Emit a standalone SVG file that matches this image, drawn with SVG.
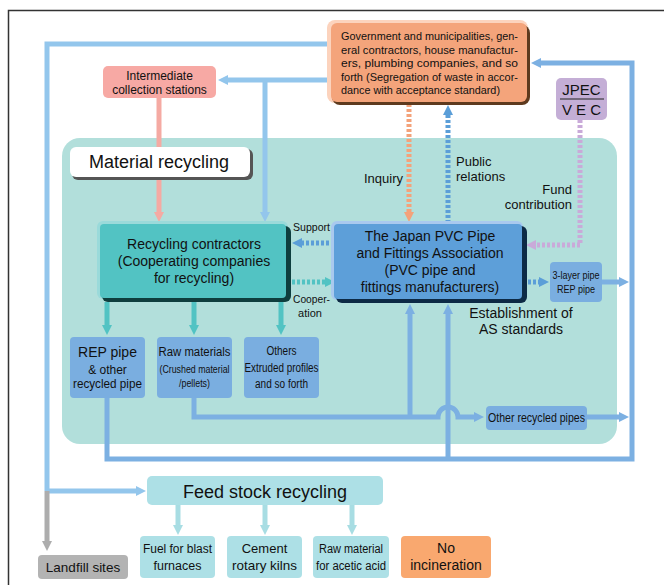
<svg xmlns="http://www.w3.org/2000/svg" width="664" height="585" viewBox="0 0 664 585">
<defs>
<style>
text{font-family:"Liberation Sans",Arial,sans-serif;fill:#111;}
.c{text-anchor:middle;}
.r{text-anchor:end;}
.ln{fill:none;stroke-width:5;}
.lb{stroke:#93c6ec;}
.mb{stroke:#7cb0e2;}
.tl{stroke:#52c3c3;}
.ft{stroke:#a8dde3;}
.dot{stroke-dasharray:3 2;}
.blue{fill:#7aaee0;}
.ftb{fill:#ade0e6;}
</style>
<marker id="aLB" viewBox="0 0 10 10" refX="1" refY="5" markerWidth="10" markerHeight="12" markerUnits="userSpaceOnUse" orient="auto"><path d="M0,0L10,5L0,10z" fill="#93c6ec"/></marker>
<marker id="aMB" viewBox="0 0 10 10" refX="1" refY="5" markerWidth="10" markerHeight="12" markerUnits="userSpaceOnUse" orient="auto"><path d="M0,0L10,5L0,10z" fill="#7cb0e2"/></marker>
<marker id="aDB" viewBox="0 0 10 10" refX="1" refY="5" markerWidth="10" markerHeight="12" markerUnits="userSpaceOnUse" orient="auto"><path d="M0,0L10,5L0,10z" fill="#5b9ed8"/></marker>
<marker id="aPK" viewBox="0 0 10 10" refX="1" refY="5" markerWidth="10" markerHeight="12" markerUnits="userSpaceOnUse" orient="auto"><path d="M0,0L10,5L0,10z" fill="#f5aaa3"/></marker>
<marker id="aTL" viewBox="0 0 10 10" refX="1" refY="5" markerWidth="10" markerHeight="12" markerUnits="userSpaceOnUse" orient="auto"><path d="M0,0L10,5L0,10z" fill="#52c3c3"/></marker>
<marker id="aOR" viewBox="0 0 10 10" refX="1" refY="5" markerWidth="10" markerHeight="12" markerUnits="userSpaceOnUse" orient="auto"><path d="M0,0L10,5L0,10z" fill="#f4a27a"/></marker>
<marker id="aPU" viewBox="0 0 10 10" refX="1" refY="5" markerWidth="10" markerHeight="12" markerUnits="userSpaceOnUse" orient="auto"><path d="M0,0L10,5L0,10z" fill="#c9aad9"/></marker>
<marker id="aFT" viewBox="0 0 10 10" refX="1" refY="5" markerWidth="10" markerHeight="12" markerUnits="userSpaceOnUse" orient="auto"><path d="M0,0L10,5L0,10z" fill="#a8dde3"/></marker>
<marker id="aGR" viewBox="0 0 10 10" refX="1" refY="5" markerWidth="10" markerHeight="12" markerUnits="userSpaceOnUse" orient="auto"><path d="M0,0L10,5L0,10z" fill="#adadad"/></marker>
</defs>
<rect width="664" height="585" fill="#fff"/>
<path d="M8.5,585V10.5H664" fill="none" stroke="#333" stroke-width="1.5"/>

<g id="material-recycling-area">
<rect x="62" y="138" width="555" height="306" rx="18" fill="#b2dfdb"/>
</g>

<g id="connectors">
<path class="ln lb" d="M332,44H47V491"/>
<path class="ln lb" d="M47,491H137" marker-end="url(#aLB)"/>
<path class="ln" stroke="#adadad" d="M47,491V542" marker-end="url(#aGR)"/>
<path class="ln lb" d="M332,80H227" marker-end="url(#aLB)"/>
<path class="ln lb" d="M265,80V213" marker-end="url(#aLB)"/>
<path class="ln" stroke="#f5aaa3" d="M159,98V213" marker-end="url(#aPK)"/>
<path class="ln tl" d="M107,302V326" marker-end="url(#aTL)"/>
<path class="ln tl" d="M194,302V326" marker-end="url(#aTL)"/>
<path class="ln tl" d="M281,302V326" marker-end="url(#aTL)"/>
<path class="ln dot" stroke="#5b9ed8" d="M334,243H301" marker-end="url(#aDB)"/>
<path class="ln dot tl" d="M292,282H326" marker-end="url(#aTL)"/>
<path class="ln dot" stroke="#f4a27a" d="M409,104V213" marker-end="url(#aOR)"/>
<path class="ln dot" stroke="#5b9ed8" d="M448,223V114" marker-end="url(#aDB)"/>
<path class="ln dot" stroke="#c9aad9" d="M580,120V245H535" marker-end="url(#aPU)"/>
<path class="ln dot" stroke="#5b9ed8" d="M528,282H540" marker-end="url(#aDB)"/>
<path class="ln mb" d="M602,282H620" marker-end="url(#aMB)"/>
<path class="ln mb" d="M194,398V417H438A10,10 0 0,1 458,417H475" marker-end="url(#aMB)"/>
<path class="ln mb" d="M410,417V313" marker-end="url(#aMB)"/>
<path class="ln mb" d="M107,398V459H632V63H540" marker-end="url(#aMB)"/>
<path class="ln mb" d="M448,459V313" marker-end="url(#aMB)"/>
<path class="ln mb" d="M587,417H620" marker-end="url(#aMB)"/>
<path class="ln ft" d="M178,505V526" marker-end="url(#aFT)"/>
<path class="ln ft" d="M265,505V526" marker-end="url(#aFT)"/>
<path class="ln ft" d="M352,505V526" marker-end="url(#aFT)"/>
</g>

<g id="material-recycling-label">
<rect x="72" y="149" width="181" height="31" rx="6" fill="#555"/>
<rect x="70" y="147" width="180" height="30" rx="6" fill="#fff"/>
<text x="159" y="168" class="c" font-size="18">Material recycling</text>
</g>

<g id="government">
<rect x="327" y="20" width="201" height="83" rx="8" fill="#fcd3bd"/>
<rect x="332" y="25" width="198" height="80" rx="8" fill="#5e3a1e"/>
<rect x="331" y="23" width="196" height="79" rx="6" fill="#f4a47b"/>
<g font-size="11">
<text x="341" y="40" textLength="177" lengthAdjust="spacingAndGlyphs">Government and municipalities, gen-</text>
<text x="341" y="53.5" textLength="177" lengthAdjust="spacingAndGlyphs">eral contractors, house manufactur-</text>
<text x="341" y="67" textLength="177" lengthAdjust="spacingAndGlyphs">ers, plumbing companies, and so</text>
<text x="341" y="80.5" textLength="177" lengthAdjust="spacingAndGlyphs">forth (Segregation of waste in accor-</text>
<text x="341" y="94" textLength="159" lengthAdjust="spacingAndGlyphs">dance with acceptance standard)</text>
</g>
</g>

<g id="intermediate">
<rect x="103" y="66" width="113" height="32" rx="5" fill="#f7a9a4"/>
<text x="159.5" y="80" class="c" font-size="12">Intermediate</text>
<text x="159.5" y="94" class="c" font-size="12">collection stations</text>
</g>

<g id="jpec">
<rect x="556" y="78" width="51" height="42" rx="5" fill="#c4aed6"/>
<text x="581.5" y="95" class="c" font-size="15">JPEC</text>
<line x1="560" y1="99" x2="604" y2="99" stroke="#222" stroke-width="1"/>
<text x="581.5" y="115" class="c" font-size="15">V E C</text>
</g>

<g id="recycling-contractors">
<rect x="97" y="221" width="191" height="78" rx="6" fill="#9adada"/>
<rect x="102" y="226" width="189" height="76" rx="6" fill="#0e3e3e"/>
<rect x="100" y="224" width="186" height="74" rx="4" fill="#52c3c3"/>
<text x="194" y="249" class="c" font-size="14">Recycling contractors</text>
<text x="194" y="266" class="c" font-size="14">(Cooperating companies</text>
<text x="194" y="283" class="c" font-size="14">for recycling)</text>
</g>

<g id="association">
<rect x="331" y="221" width="192" height="79" rx="6" fill="#a9c9ee"/>
<rect x="336" y="226" width="191" height="77" rx="6" fill="#0d2a45"/>
<rect x="334" y="224" width="188" height="75" rx="4" fill="#5d9fd9"/>
<text x="430" y="241" class="c" font-size="14">The Japan PVC Pipe</text>
<text x="430" y="258" class="c" font-size="14">and Fittings Association</text>
<text x="430" y="275" class="c" font-size="14">(PVC pipe and</text>
<text x="430" y="292" class="c" font-size="14">fittings manufacturers)</text>
</g>

<g id="labels" font-size="13">
<text x="293" y="231" font-size="11" textLength="37" lengthAdjust="spacingAndGlyphs">Support</text>
<text x="293" y="303" font-size="11" textLength="37" lengthAdjust="spacingAndGlyphs">Cooper-</text>
<text x="310" y="317" class="c" font-size="11">ation</text>
<text x="403" y="183" class="r">Inquiry</text>
<text x="456" y="166">Public</text>
<text x="456" y="181">relations</text>
<text x="572" y="194" class="r">Fund</text>
<text x="572" y="209" class="r">contribution</text>
<text x="521" y="318" class="c" font-size="14">Establishment of</text>
<text x="521" y="334" class="c" font-size="14">AS standards</text>
</g>

<g id="three-layer">
<rect x="550" y="262" width="52" height="40" rx="4" class="blue"/>
<text x="576" y="279" class="c" font-size="11" textLength="47" lengthAdjust="spacingAndGlyphs">3-layer pipe</text>
<text x="576" y="293" class="c" font-size="11" textLength="38" lengthAdjust="spacingAndGlyphs">REP pipe</text>
</g>

<g id="rep-pipe">
<rect x="70" y="337" width="75" height="61" rx="4" class="blue"/>
<text x="107.5" y="357" class="c" font-size="14">REP pipe</text>
<text x="107.5" y="374" class="c" font-size="12">&amp; other</text>
<text x="107.5" y="388" class="c" font-size="12" textLength="69" lengthAdjust="spacingAndGlyphs">recycled pipe</text>
</g>

<g id="raw-materials">
<rect x="157" y="337" width="75" height="61" rx="4" class="blue"/>
<text x="194.5" y="356" class="c" font-size="12" textLength="72" lengthAdjust="spacingAndGlyphs">Raw materials</text>
<text x="194.5" y="373" class="c" font-size="10.5" textLength="70" lengthAdjust="spacingAndGlyphs">(Crushed material</text>
<text x="194.5" y="387" class="c" font-size="10.5" textLength="31" lengthAdjust="spacingAndGlyphs">/pellets)</text>
</g>

<g id="others">
<rect x="244" y="337" width="75" height="61" rx="4" class="blue"/>
<text x="281.5" y="355" class="c" font-size="12" textLength="30" lengthAdjust="spacingAndGlyphs">Others</text>
<text x="281.5" y="372" class="c" font-size="12" textLength="74" lengthAdjust="spacingAndGlyphs">Extruded profiles</text>
<text x="281.5" y="388" class="c" font-size="12" textLength="53" lengthAdjust="spacingAndGlyphs">and so forth</text>
</g>

<g id="other-recycled-pipes">
<rect x="486" y="406" width="101" height="24" rx="4" class="blue"/>
<text x="536.5" y="422" class="c" font-size="12" textLength="97" lengthAdjust="spacingAndGlyphs">Other recycled pipes</text>
</g>

<g id="feed-stock">
<rect x="147" y="476" width="236" height="29" rx="5" class="ftb"/>
<text x="265" y="498" class="c" font-size="18">Feed stock recycling</text>
</g>

<g id="landfill">
<rect x="38" y="555" width="90" height="24" rx="4" fill="#b3b3b3"/>
<text x="83" y="572" class="c" font-size="13.5">Landfill sites</text>
</g>

<g id="fuel">
<rect x="140" y="536" width="75" height="42" rx="4" class="ftb"/>
<text x="177.5" y="553" class="c" font-size="12.5" textLength="69" lengthAdjust="spacingAndGlyphs">Fuel for blast</text>
<text x="177.5" y="570" class="c" font-size="12.5">furnaces</text>
</g>

<g id="cement">
<rect x="227" y="536" width="75" height="42" rx="4" class="ftb"/>
<text x="264.5" y="553" class="c" font-size="13">Cement</text>
<text x="264.5" y="570" class="c" font-size="13" textLength="65" lengthAdjust="spacingAndGlyphs">rotary kilns</text>
</g>

<g id="acetic">
<rect x="313" y="536" width="76" height="42" rx="4" class="ftb"/>
<text x="351" y="553" class="c" font-size="12" textLength="64" lengthAdjust="spacingAndGlyphs">Raw material</text>
<text x="351" y="570" class="c" font-size="12" textLength="70" lengthAdjust="spacingAndGlyphs">for acetic acid</text>
</g>

<g id="no-incineration">
<rect x="401" y="536" width="90" height="42" rx="4" fill="#f9a86f"/>
<text x="446" y="553" class="c" font-size="14">No</text>
<text x="446" y="570" class="c" font-size="14">incineration</text>
</g>
</svg>
